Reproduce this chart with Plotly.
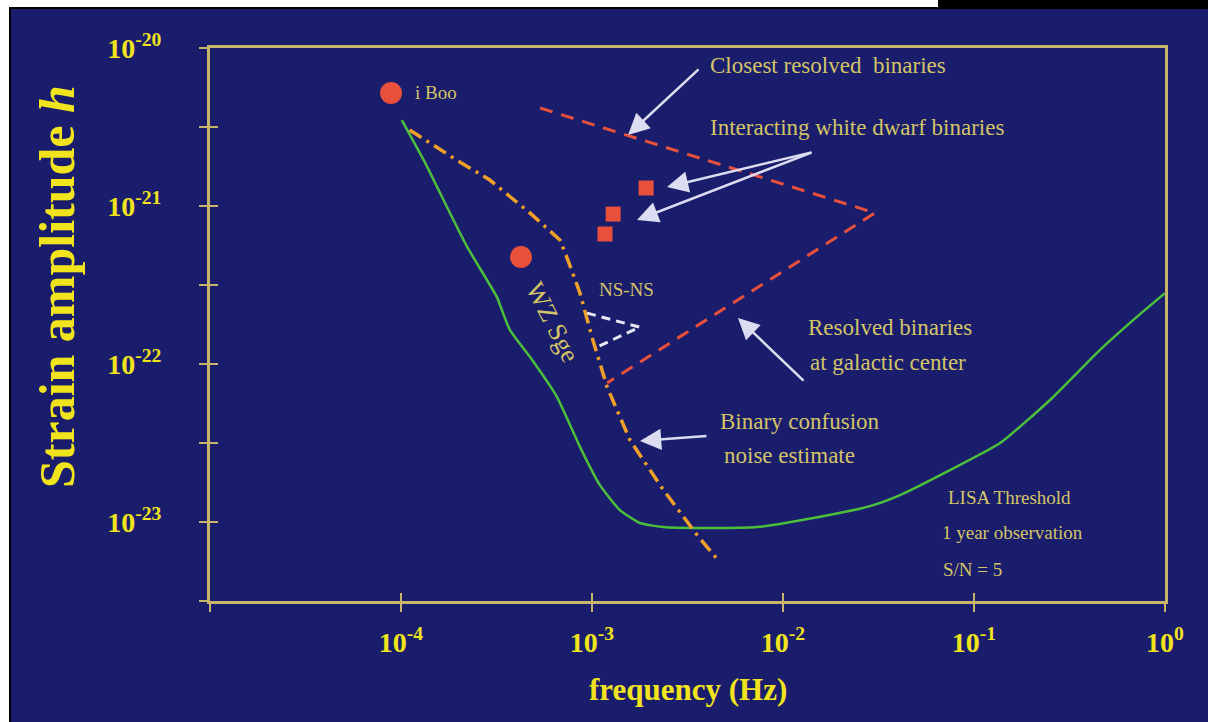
#!/usr/bin/env python3

import plotly.graph_objects as go

# LISA threshold curve (1 year, S/N = 5)
lisa_f=[1.01e-4,1.34e-4,1.74e-4,2.22e-4,3.18e-4,3.42e-4,3.72e-4,4.73e-4,6.56e-4,8.65e-4,
        1.10e-3,1.40e-3,1.78e-3,2.36e-3,3.67e-3,7.31e-3,1.44e-2,2.85e-2,4.10e-2,7.48e-2,
        0.137,0.250,0.457,0.740,1.0]
lisa_h=[3.50e-21,1.87e-21,9.86e-22,5.51e-22,2.65e-22,2.10e-22,1.64e-22,1.11e-22,6.18e-23,2.99e-23,
        1.71e-23,1.19e-23,9.86e-24,9.29e-24,9.16e-24,9.29e-24,1.06e-23,1.26e-23,1.48e-23,2.13e-23,
        3.16e-23,5.92e-23,1.23e-22,2.07e-22,2.81e-22]

# binary confusion noise estimate
conf_f=[1.11e-4,1.96e-4,2.92e-4,4.73e-4,6.79e-4,7.48e-4,8.65e-4,1.01e-3,1.20e-3,1.58e-3,2.36e-3,3.55e-3,4.57e-3]
conf_h=[3.03e-21,1.95e-21,1.46e-21,9.04e-22,6.10e-22,4.55e-22,2.81e-22,1.42e-22,7.15e-23,3.30e-23,1.60e-23,8.28e-24,5.74e-24]

# resolved binaries (closest / galactic center)
resolved_f=[5.35e-4,3.03e-2,1.20e-3]
resolved_h=[4.17e-21,9.04e-22,7.59e-23]

# NS-NS
nsns_f=[9.42e-4,1.78e-3,1.06e-3]
nsns_h=[2.10e-22,1.71e-22,1.28e-22]

# known sources
circle_names=['i Boo','WZ Sge']
circle_f=[8.87e-5,4.25e-4]
circle_h=[5.19e-21,4.75e-22]

# interacting white dwarf binaries
square_f=[1.92e-3,1.29e-3,1.17e-3]
square_h=[1.30e-21,8.89e-22,6.65e-22]

x_tick_vals=[1e-5,1e-4,1e-3,1e-2,1e-1,1e0]
x_tick_text=['','10<sup>-4</sup>','10<sup>-3</sup>','10<sup>-2</sup>','10<sup>-1</sup>','10<sup>0</sup>']
y_tick_vals=[1e-20,3.162e-21,1e-21,3.162e-22,1e-22,3.162e-23,1e-23,3.162e-24]
y_tick_text=['10<sup>-20</sup>','','10<sup>-21</sup>','','10<sup>-22</sup>','','10<sup>-23</sup>','']

navy='#1a1d6b'
axis_col='#c8b46a'
tick_col='#f2e41c'
text_col='#d4c468'
arrow_col='#dcdcf2'
serif='Liberation Serif'

data=[]
data.append(go.Scatter(x=lisa_f, y=lisa_h, mode='lines', line=dict(color='#4cbf3c', width=2.5, shape='spline', smoothing=0.5)))
data.append(go.Scatter(x=conf_f, y=conf_h, mode='lines', line=dict(color='#f0a028', width=3.5, dash='14px,6px,3px,6px')))
data.append(go.Scatter(x=resolved_f, y=resolved_h, mode='lines', line=dict(color='#e8503c', width=3, dash='13px,9px')))
data.append(go.Scatter(x=nsns_f, y=nsns_h, mode='lines', line=dict(color='#e8e8f8', width=3, dash='9px,6px')))
data.append(go.Scatter(x=circle_f, y=circle_h, mode='markers', marker=dict(symbol='circle', size=22, color='#e8503c')))
data.append(go.Scatter(x=square_f, y=square_h, mode='markers', marker=dict(symbol='square', size=15, color='#e8503c')))
# invisible copy on the overlay axes so the inner half of each tick is drawn
data.append(go.Scatter(x=lisa_f, y=lisa_h, xaxis='x2', yaxis='y2', mode='lines', line=dict(width=0), hoverinfo='skip'))

def px_x(p):
  return (p-210)/955

def px_y(p):
  return (601-p)/553

def label(text, x, y, size=23, anchor='left', angle=0, color=text_col, bold=False):
  if bold:
    text='<b>'+text+'</b>'
  return dict(text=text, x=px_x(x), y=px_y(y), xref='paper', yref='paper', showarrow=False,
              xanchor=anchor, yanchor='middle', textangle=angle, font=dict(family=serif, size=size, color=color))

def arrow(x, y, tx, ty):
  return dict(text='', x=px_x(x), y=px_y(y), xref='paper', yref='paper', ax=tx-x, ay=ty-y,
              showarrow=True, arrowhead=2, arrowsize=1.7, arrowwidth=2.5, arrowcolor=arrow_col, standoff=0)

annotations=[
  label('i Boo', 413, 93, size=19),
  label('Closest resolved&nbsp; binaries', 708, 65),
  label('Interacting white dwarf binaries', 708, 127),
  label('NS-NS', 597, 289, size=19),
  label('Resolved binaries', 890, 327, anchor='center'),
  label('at galactic center', 888, 362, anchor='center'),
  label('Binary confusion', 718, 422),
  label('noise estimate', 722, 455),
  label('LISA Threshold', 946, 497, size=19),
  label('1 year observation', 940, 532, size=19),
  label('S/N = 5', 941, 569, size=19),
  label('WZ Sge', 553, 322, size=26, anchor='center', angle=63),
  label('frequency (Hz)', 688, 689, size=31, anchor='center', color=tick_col, bold=True),
  label('Strain amplitude <i>h</i>', 57, 287, size=50, anchor='center', angle=-90, color=tick_col, bold=True),
  arrow(628, 135, 700, 68),
  arrow(667, 187, 813, 152),
  arrow(637, 220, 813, 152),
  arrow(738, 318, 805, 382),
  arrow(640, 441, 708, 436),
]

# white / black strips around the picture edge
shapes=[
  dict(type='rect', xref='paper', yref='paper', x0=px_x(0), x1=px_x(938), y0=px_y(7), y1=px_y(0), fillcolor='white', line=dict(width=0)),
  dict(type='rect', xref='paper', yref='paper', x0=px_x(938), x1=px_x(1208), y0=px_y(9), y1=px_y(0), fillcolor='black', line=dict(width=0)),
  dict(type='rect', xref='paper', yref='paper', x0=px_x(0), x1=px_x(1208), y0=px_y(9), y1=px_y(7), fillcolor='black', line=dict(width=0)),
  dict(type='rect', xref='paper', yref='paper', x0=px_x(0), x1=px_x(9), y0=px_y(722), y1=px_y(0), fillcolor='white', line=dict(width=0)),
  dict(type='rect', xref='paper', yref='paper', x0=px_x(9), x1=px_x(11), y0=px_y(722), y1=px_y(7), fillcolor='black', line=dict(width=0)),
]

tickfont=dict(family=serif, size=28, color=tick_col, weight='bold')
layout=go.Layout(
  width=1208, height=722, margin=dict(l=210, r=43, t=48, b=121),
  paper_bgcolor=navy, plot_bgcolor=navy, showlegend=False, hovermode=False,
  xaxis=dict(type='log', range=[-5,0], tickvals=x_tick_vals, ticktext=x_tick_text, tickfont=tickfont,
             ticks='outside', ticklen=8, tickwidth=2, tickcolor=axis_col, ticklabelstandoff=6,
             showline=True, linecolor=axis_col, linewidth=3, mirror=True, showgrid=False, zeroline=False),
  yaxis=dict(type='log', range=[-23.5,-20], tickvals=y_tick_vals, ticktext=y_tick_text, tickfont=tickfont,
             ticks='outside', ticklen=8, tickwidth=2, tickcolor=axis_col, ticklabelstandoff=32,
             showline=True, linecolor=axis_col, linewidth=3, mirror=True, showgrid=False, zeroline=False),
  xaxis2=dict(type='log', range=[-5,0], overlaying='x', anchor='y', side='bottom', tickvals=x_tick_vals,
              ticks='inside', ticklen=8, tickwidth=2, tickcolor=axis_col, showticklabels=False,
              showline=False, showgrid=False, zeroline=False),
  yaxis2=dict(type='log', range=[-23.5,-20], overlaying='y', anchor='x', side='left', tickvals=y_tick_vals,
              ticks='inside', ticklen=8, tickwidth=2, tickcolor=axis_col, showticklabels=False,
              showline=False, showgrid=False, zeroline=False),
  annotations=annotations, shapes=shapes)

fig=go.Figure(data=data, layout=layout)
# drop the default page margin so the figure fills the window
fig.write_html('out.html', config={'displayModeBar': False},
               post_script="document.body.style.margin='0';document.body.style.overflow='hidden';")
